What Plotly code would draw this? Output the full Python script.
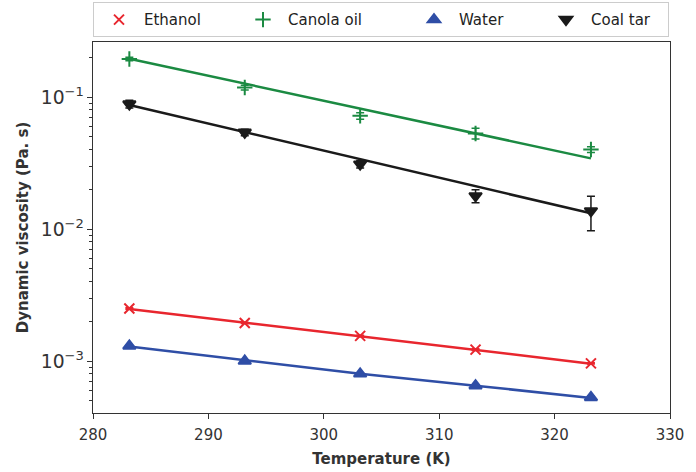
import plotly.graph_objects as go

# temperatures (K)
temperature = [283.15, 293.15, 303.15, 313.15, 323.15]

# measured dynamic viscosity (Pa.s) with error
ethanol = [2.50e-3, 1.94e-3, 1.55e-3, 1.22e-3, 0.96e-3]
ethanol_err = [0.03e-3, 0.02e-3, 0.02e-3, 0.02e-3, 0.01e-3]
canola = [0.194, 0.118, 0.072, 0.053, 0.040]
canola_err = [0.006, 0.005, 0.004, 0.005, 0.002]
water = [1.30e-3, 1.00e-3, 0.80e-3, 0.65e-3, 0.53e-3]
water_err = [0.01e-3, 0.01e-3, 0.01e-3, 0.01e-3, 0.01e-3]
coal_tar = [0.0885, 0.054, 0.031, 0.0178, 0.0137]
coal_tar_err = [0.006, 0.003, 0.002, 0.002, 0.004]

# fitted curves
ethanol_fit = [2.48e-3, 1.95e-3, 1.54e-3, 1.21e-3, 0.955e-3]
canola_fit = [0.195, 0.126, 0.0818, 0.0530, 0.0343]
water_fit = [1.29e-3, 1.01e-3, 0.80e-3, 0.65e-3, 0.525e-3]
coal_tar_fit = [0.0871, 0.0542, 0.0338, 0.0210, 0.01315]

series = [
    ("Ethanol", ethanol, ethanol_err, ethanol_fit, "#e8262e", "x-thin", 10),
    ("Canola oil", canola, canola_err, canola_fit, "#1b8a42", "cross-thin", 11),
    ("Water", water, water_err, water_fit, "#2f4ea6", "triangle-up", 11),
    ("Coal tar", coal_tar, coal_tar_err, coal_tar_fit, "#1a1a1a", "triangle-down", 11),
]
# legend entry widths so the items spread like the original
legend_widths = {"Ethanol": 89, "Canola oil": 116, "Water": 77, "Coal tar": 72}

fig = go.Figure()

# fitted lines first, markers drawn on top
for name, vals, err, fit, color, symbol, size in series:
    fig.add_trace(go.Scatter(
        x=temperature, y=fit, mode="lines",
        line=dict(color=color, width=2.5),
        showlegend=False, hoverinfo="skip"
    ))

for name, vals, err, fit, color, symbol, size in series:
    fig.add_trace(go.Scatter(
        x=temperature, y=vals, mode="markers", name=name,
        legendwidth=legend_widths[name],
        marker=dict(symbol=symbol, size=size, color=color,
                    line=dict(color=color, width=2)),
        error_y=dict(type="data", array=err, color=color, thickness=1.5, width=4)
    ))

tick_font = dict(family="DejaVu Sans", size=15, color="#333333")
title_font = dict(family="DejaVu Sans", size=15, color="#333333")

fig.update_layout(
    width=696, height=472,
    margin=dict(l=93, r=26, t=42, b=59, autoexpand=False),
    paper_bgcolor="white", plot_bgcolor="white",
    font=dict(family="DejaVu Sans", size=14, color="#333333"),
    legend=dict(
        orientation="h", xref="paper", x=0, xanchor="left",
        yref="container", y=0.995, yanchor="top",
        bordercolor="#cccccc", borderwidth=1,
        font=dict(family="DejaVu Sans", size=15, color="#222222"),
        itemwidth=40,
    ),
    xaxis=dict(
        range=[280, 330], dtick=10, ticks="outside", ticklen=5,
        tickcolor="#333333", showline=True, linecolor="#333333", linewidth=1.2,
        mirror=True, showgrid=False, zeroline=False, tickfont=tick_font,
        ticklabelstandoff=3, automargin=False,
        title=dict(text="<b>Temperature (K)</b>", font=title_font, standoff=10),
    ),
    yaxis=dict(
        type="log", range=[-3.394, -0.583], dtick=1, exponentformat="power",
        ticks="outside", ticklen=5, tickcolor="#333333",
        showline=True, linecolor="#333333", linewidth=1.2, mirror=True,
        showgrid=False, zeroline=False, tickfont=tick_font, automargin=False,
        minor=dict(ticks="outside", ticklen=3, tickcolor="#333333", dtick="D1", showgrid=False),
        title=dict(text="<b>Dynamic viscosity (Pa. s)</b>", font=title_font, standoff=8),
    ),
)

fig.write_html("out.html", config={"displayModeBar": False},
               post_script="document.body.style.margin='0';")
